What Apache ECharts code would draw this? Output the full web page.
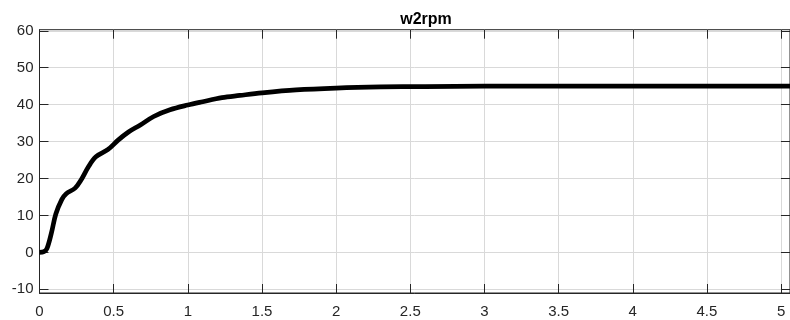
<!DOCTYPE html>
<html>
<head>
<meta charset="utf-8">
<script src="https://cdn.jsdelivr.net/npm/echarts@6/dist/echarts.min.js"></script>
<style>
  html, body { margin: 0; padding: 0; background: #fff; }
  #main { width: 790px; height: 320px; }
</style>
</head>
<body>
<div id="main"></div>
<script>
// time (s) and speed samples
var timeS = [0, 0.03, 0.05, 0.08, 0.11, 0.15, 0.18, 0.24, 0.28, 0.33, 0.38, 0.46, 0.53, 0.6, 0.68, 0.77, 0.88, 1.0, 1.1, 1.23, 1.35, 1.5, 1.73, 2.0, 2.3, 2.6, 3.0, 3.5, 4.0, 4.5, 5.0, 5.06];
var w2rpm = [0, 0.2, 1.0, 5.2, 10.4, 14.3, 15.9, 17.4, 19.6, 23.2, 25.9, 27.8, 30.4, 32.6, 34.5, 36.8, 38.6, 39.9, 40.8, 41.9, 42.5, 43.2, 44.0, 44.5, 44.8, 44.9, 45.0, 45.0, 45.0, 45.0, 45.0, 45.0];
var xTicks = [0, 0.5, 1, 1.5, 2, 2.5, 3, 3.5, 4, 4.5, 5];
var yTicks = [-10, 0, 10, 20, 30, 40, 50, 60];

var pts = [];
for (var i = 0; i < timeS.length; i++) {
    pts.push([timeS[i], w2rpm[i]]);
}

var dark = '#262626';
var gridCol = '#d9d9d9';
var labelStyle = { color: dark, fontSize: 15, fontFamily: 'Liberation Sans' };

var myChart = echarts.init(document.getElementById('main'));
var option = {
    animation: false,
    title: {
        text: 'w2rpm',
        left: 421, top: 7, textAlign: 'center',
        textStyle: { fontSize: 16, fontWeight: 'bold', color: '#000', fontFamily: 'Liberation Sans' }
    },
    grid: {
        left: 39.5, top: 29.7, width: 754, bottom: 27,
        show: true, borderColor: dark, borderWidth: 1, backgroundColor: '#fff'
    },
    xAxis: [{
        type: 'value', min: 0, max: 5.06, interval: 0.5,
        axisLine: { show: true, onZero: false, lineStyle: { color: dark } },
        axisTick: { show: true, inside: true, length: 9, lineStyle: { color: dark } },
        axisLabel: Object.assign({ margin: 11, showMaxLabel: false,
            formatter: function (v) { return xTicks.indexOf(v) >= 0 ? String(v) : ''; } }, labelStyle),
        splitLine: { show: true, lineStyle: { color: gridCol, width: 1 } }
    }, {
        type: 'value', position: 'top', min: 0, max: 5.06, interval: 0.5,
        axisLine: { show: false, onZero: false },
        axisTick: { show: true, inside: true, length: 9, lineStyle: { color: dark } },
        axisLabel: { show: false },
        splitLine: { show: false }
    }],
    yAxis: [{
        type: 'value', min: -11, max: 60.3,
        axisLine: { show: true, onZero: false, lineStyle: { color: dark } },
        axisTick: { show: true, inside: true, length: 9, lineStyle: { color: dark },
            customValues: yTicks },
        axisLabel: Object.assign({ margin: 6, customValues: yTicks }, labelStyle),
        splitLine: { show: true, lineStyle: { color: gridCol, width: 1 } }
    }, {
        type: 'value', position: 'right', min: -11, max: 60.3,
        axisLine: { show: false, onZero: false },
        axisTick: { show: true, inside: true, length: 9, lineStyle: { color: dark },
            customValues: yTicks },
        axisLabel: { show: false },
        splitLine: { show: false }
    }],
    series: [{
        name: 'w2rpm',
        type: 'line',
        data: pts,
        showSymbol: false,
        smooth: 0.35,
        lineStyle: { color: '#000', width: 4.7 },
        z: 5
    }]
};
myChart.setOption(option);
</script>
</body>
</html>
